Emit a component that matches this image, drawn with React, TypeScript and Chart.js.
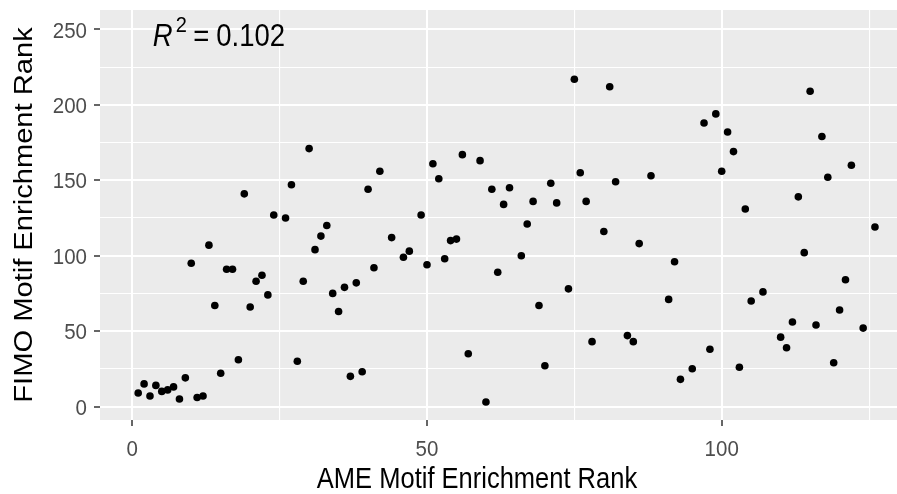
import React, { useEffect, useRef } from "react";
import { Chart, registerables } from "chart.js";

Chart.register(...registerables);

// AME rank (x) and FIMO rank (y) for each motif
const ameRank = [
  1, 2, 3, 4, 5, 6, 7, 8, 9, 10, 11, 12, 13, 14, 15, 16, 17, 18, 19, 20, 21, 22, 23, 24,
  26, 27, 28, 29, 30, 31, 32, 33, 34, 35, 36, 37, 38, 39, 40, 41, 42, 44, 46, 47, 49, 50,
  51, 52, 53, 54, 55, 56, 57, 59, 60, 61, 62, 63, 64, 66, 67, 68, 69, 70, 71, 72, 74, 75,
  76, 77, 78, 80, 81, 82, 84, 85, 86, 88, 91, 92, 93, 95, 97, 98, 99, 100, 101, 102, 103,
  104, 105, 107, 110, 111, 112, 113, 114, 115, 116, 117, 118, 119, 120, 121, 122, 124, 126,
];
const fimoRank = [
  9, 15, 7, 14, 10, 11, 13, 5, 19, 95, 6, 7, 107, 67, 22, 91, 91, 31, 141, 66, 83, 87, 74, 127,
  125, 147, 30, 83, 171, 104, 113, 120, 75, 63, 79, 20, 82, 23, 144, 92, 156, 112, 99, 103, 127, 94,
  161, 151, 98, 110, 111, 167, 35, 163, 3, 144, 89, 134, 145, 100, 121, 136, 67, 27, 148, 135, 78, 217,
  155, 136, 43, 116, 212, 149, 47, 43, 108, 153, 71, 96, 18, 25, 188, 38, 194, 156, 182, 169, 26,
  131, 70, 76, 46, 39, 56, 139, 102, 209, 54, 179, 152, 29, 64, 84, 160, 52, 119,
];

const xGridValues = [0, 25, 50, 75, 100, 125];
const yGridValues = [0, 25, 50, 75, 100, 125, 150, 175, 200, 225, 250];
const xTickLabels = [0, 50, 100];
const yTickLabels = [0, 50, 100, 150, 200, 250];

const xTitle = "AME Motif Enrichment Rank";
const yTitle = "FIMO Motif Enrichment Rank";
const rSquared = "0.102";

const FONT = '"Liberation Sans", Arial, Helvetica, sans-serif';
const STRETCH = 1.12;

function drawText(
  ctx: CanvasRenderingContext2D,
  text: string,
  x: number,
  y: number,
  size: number,
  align: CanvasTextAlign,
  color: string,
  italic = false,
  rotate = false
) {
  ctx.save();
  ctx.translate(x, y);
  ctx.scale(1, STRETCH);
  if (rotate) ctx.rotate(-Math.PI / 2);
  ctx.font = `${italic ? "italic " : ""}${size}px ${FONT}`;
  ctx.fillStyle = color;
  ctx.textAlign = align;
  ctx.textBaseline = "alphabetic";
  ctx.fillText(text, 0, 0);
  ctx.restore();
}

const panelPlugin = {
  id: "panelBackground",
  beforeDraw(chart: any) {
    const { ctx, chartArea } = chart;
    ctx.save();
    ctx.fillStyle = "#EBEBEB";
    ctx.fillRect(chartArea.left, chartArea.top, chartArea.right - chartArea.left, chartArea.bottom - chartArea.top);
    ctx.restore();
  },
};

const textPlugin = {
  id: "axisText",
  afterDraw(chart: any) {
    const { ctx, chartArea, scales } = chart;
    const xs = scales.x;
    const ys = scales.y;
    const tickSize = 20.5;
    const capH = 0.716 * tickSize * STRETCH;

    yTickLabels.forEach((v) => {
      drawText(ctx, String(v), chartArea.left - 13, ys.getPixelForValue(v) + capH / 2, tickSize, "right", "#4D4D4D");
    });
    xTickLabels.forEach((v) => {
      drawText(ctx, String(v), xs.getPixelForValue(v), chartArea.bottom + 35.5, tickSize, "center", "#4D4D4D");
    });

    drawText(ctx, xTitle, 477, 488, 25.5, "center", "#000000");
    drawText(ctx, yTitle, 32, (chartArea.top + chartArea.bottom) / 2, 26, "center", "#000000", false, true);

    // R² annotation at (15, 250)
    const cx = xs.getPixelForValue(15);
    const cy = ys.getPixelForValue(250);
    const left = cx - 68;
    const base = cy + 16.5;
    drawText(ctx, "R", left, base, 27.5, "left", "#000000", true);
    drawText(ctx, "2", left + 23, base - 14, 20, "left", "#000000");
    drawText(ctx, "=", left + 40.5, base, 27.5, "left", "#000000");
    drawText(ctx, rSquared, left + 63.5, base, 27.5, "left", "#000000");
  },
};

export default function App() {
  const canvasRef = useRef<HTMLCanvasElement | null>(null);

  useEffect(() => {
    if (!canvasRef.current) return;
    const points = ameRank.map((x, i) => ({ x, y: fimoRank[i] }));

    const gridWidth = (ctx: any) => (ctx.tick && ctx.tick.value % 50 === 0 ? 2 : 1.1);
    const tickColor = (ctx: any) => (ctx.tick && ctx.tick.value % 50 === 0 ? "#333333" : "rgba(0,0,0,0)");

    const chart = new Chart(canvasRef.current, {
      type: "scatter",
      data: {
        datasets: [
          {
            data: points,
            backgroundColor: "#000000",
            borderWidth: 0,
            pointRadius: 3.8,
            pointHoverRadius: 3.8,
          },
        ],
      },
      options: {
        animation: false,
        responsive: false,
        events: [],
        layout: { autoPadding: false, padding: { left: 0, top: 10, right: 0, bottom: 0 } },
        plugins: {
          legend: { display: false },
          tooltip: { enabled: false },
          title: { display: false },
        },
        scales: {
          x: {
            type: "linear",
            min: -5.48,
            max: 129.74,
            afterBuildTicks: (scale: any) => {
              scale.ticks = xGridValues.map((value) => ({ value }));
            },
            afterFit: (scale: any) => {
              scale.height = 74;
              scale.paddingLeft = 0;
              scale.paddingRight = 0;
            },
            ticks: { display: false },
            border: { display: false },
            grid: {
              color: "#FFFFFF",
              lineWidth: gridWidth,
              drawTicks: true,
              tickLength: 6,
              tickColor: tickColor,
              tickWidth: 1.5,
            },
          },
          y: {
            type: "linear",
            min: -8.95,
            max: 262.9,
            afterBuildTicks: (scale: any) => {
              scale.ticks = yGridValues.map((value) => ({ value }));
            },
            afterFit: (scale: any) => {
              scale.width = 100;
              scale.paddingTop = 0;
              scale.paddingBottom = 0;
            },
            ticks: { display: false },
            border: { display: false },
            grid: {
              color: "#FFFFFF",
              lineWidth: gridWidth,
              drawTicks: true,
              tickLength: 6,
              tickColor: tickColor,
              tickWidth: 1.5,
            },
          },
        },
      },
      plugins: [panelPlugin, textPlugin],
    });

    return () => chart.destroy();
  }, []);

  return (
    <div style={{ position: "absolute", left: 0, top: 0, width: 897, height: 494, background: "#FFFFFF" }}>
      <canvas ref={canvasRef} width={897} height={494} style={{ display: "block" }} />
    </div>
  );
}
